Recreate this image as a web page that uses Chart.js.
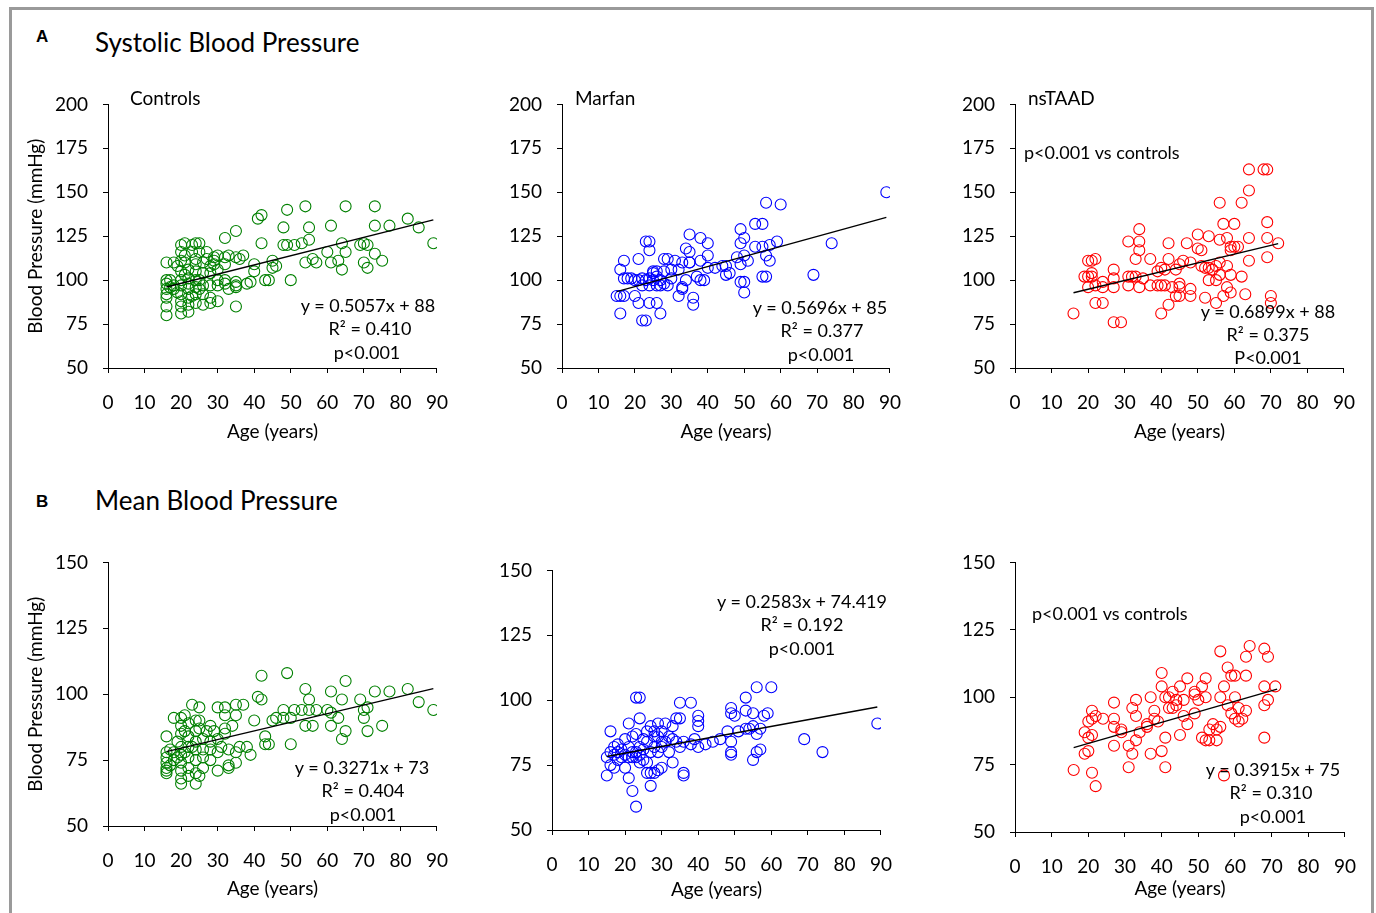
<!DOCTYPE html>
<html><head><meta charset="utf-8">
<script src="https://cdn.jsdelivr.net/npm/chart.js@4.4.1/dist/chart.umd.min.js"></script>
<style>
html,body{margin:0;padding:0;background:#fff;}
#page{position:relative;width:1376px;height:913px;overflow:hidden;font-family:Lato,sans-serif;color:#000;}
#frame{position:absolute;left:9px;top:7px;width:1359px;height:930px;border:3px solid #9a9a9a;border-bottom:none;}
canvas{position:absolute;}
.t{position:absolute;white-space:nowrap;line-height:1;}
</style></head><body><div id="page"><div id="frame"></div></div>
<script>
// ---------- data ----------
const sbpControlsAge = [16,16,16,16,16,16,16,16, 17,17, 18,18,18, 19,19, 20,20,20,20,20,20,20,20,20,20, 21,21,21,21, 22,22,22,22,22,22,22, 23,23,23, 24,24,24,24,24,24,24,24, 25,25,25,25, 26,26,26,26,26, 27,27, 28,28,28,28,28, 29,29,29, 30,30,30,30,30, 32,32,32,32,32, 33,33, 35,35,35,35,35,35, 36, 37, 38, 39, 40,40, 41, 42,42, 43, 44, 45,45, 46, 48,48, 49,49, 50, 51, 53, 54,54, 55,55, 56, 57, 60, 61,61, 63, 64,64, 65,65, 69, 70,70, 71,71, 73,73,73, 75, 77, 82, 85, 89];
const sbpControlsVal = [110,100,98,95,92,90,85,80, 100,96, 110,97,95, 108,93, 120,116,111,105,100,97,92,88,85,81, 121,114,110,103, 106,101,98,95,90,86,82, 120,116,91, 121,112,109,105,100,96,92,87, 121,116,100,95, 110,104,97,92,86, 116,112, 108,104,97,90,87, 113,111,109, 114,106,100,97,88, 124,113,109,100,98, 95,114, 128,113,99,97,96,85, 112, 114, 98, 99, 109,105, 135, 137,121, 100, 100, 111,107, 108, 130,120, 140,120, 100, 120, 121, 142,110, 130,123, 112, 110, 116, 131,110, 111, 121,106, 142,116, 120, 121,110, 120,107, 142,131,115, 111, 131, 135, 130, 121];

const sbpMarfanAge = [15, 16,16,16, 17,17,17, 18, 19, 20,20, 21,21,21, 22,22,22, 23,23,23, 24,24,24,24,24, 25,25,25, 26,26,26,26, 27,27,27, 28,28,28, 29,29, 30,30, 31, 32,32, 33,33,33, 34,34, 35,35,35,35, 36,36, 37, 38,38,38, 39, 40,40,40, 42, 44, 45,45, 46, 48, 49,49,49,49, 50,50,50,50, 51, 53,53, 55,55,55, 56,56,56, 57,57, 59, 60, 69, 74, 89];
const sbpMarfanVal = [91, 91,106,81, 91,111,101, 101, 101, 100,91, 112,87,100, 101,97,77, 122,100,77, 122,117,101,97,87, 100,104,105, 97,102,87,105, 100,97,81, 112,98,105, 112,97, 101,106, 111, 106,91, 110,95,96, 118,100, 126,116,110,110, 90,86, 102, 124,111,100, 100, 121,114,107, 107, 108, 103,108, 104, 113, 129,121,109,99, 124,114,99,93, 111, 132,119, 132,119,102, 144,114,102, 111,120, 122, 143, 103, 121, 150];

const sbpTaadAge = [16, 19, 20,20,20, 21,21,21, 22,22,22, 24,24,24, 27,27,27,27, 29, 31,31,31, 32, 33,33, 34,34,34,34, 35, 37,37, 39,39, 40,40,40, 41,41, 42,42,42, 43, 44,44, 45,45,45,45, 46, 47, 48,48,48, 50,50, 51,51, 52,52, 53,53,53, 54, 55,55,55, 56,56,56,56, 57,57, 58,58,58, 59,59,59,59, 60,60, 61, 62,62, 63, 64,64,64,64, 68, 69,69,69,69, 70,70, 72];
const sbpTaadVal = [81, 102, 111,102,96, 111,104,102, 112,97,87, 99,96,87, 106,101,96,76, 76, 122,102,97, 102, 112,102, 129,122,117,96, 101, 112,97, 105,97, 107,97,81, 106,97, 121,112,86, 96, 106,91, 109,96,91,98, 111, 121, 110,95,91, 126,118, 117,108, 107,90, 125,107,100, 106, 108,100,87, 144,123,110,103, 132,91, 124,108,96, 119,117,103,93, 132,119, 119, 144,102, 92, 163,151,111,124, 163, 163,133,124,113, 91,87, 121];

const mbpControlsAge = [16,16,16,16,16,16,16, 17,17, 18,18,18, 19,19, 20,20,20,20,20,20,20,20,20, 21,21,21, 22,22,22,22,22,22, 23,23, 24,24,24,24,24,24,24, 25,25,25,25, 26,26,26,26, 27, 28,28,28,28, 29, 30,30,30,30, 31, 32,32,32,32, 33,33,33, 34, 35,35,35,35, 36, 37, 38, 39, 40, 41, 42,42, 43,43, 44, 45, 46, 48,48, 49, 50,50, 51, 53, 54,54, 55,55, 56, 57, 60, 61,61,61, 63, 64,64, 65,65, 69, 70,70, 71,71, 73, 75, 77, 82, 85, 89];
const mbpControlsVal = [84,78,76,74,72,71,70, 79,73, 91,78,75, 82,76, 91,88,85,80,77,74,71,68,66, 92,86,78, 89,84,80,76,72,69, 96,80, 90,86,82,79,75,70,66, 95,87,90,69, 83,79,76,72, 86, 88,82,79,75, 86, 95,83,78,71, 80, 95,92,87,85, 79,73,72, 88, 96,92,78,74, 80, 96, 80, 77, 90, 99, 107,98, 84,81, 81, 90, 91, 94,91, 108, 81,91, 94, 94, 102,88, 98,94, 88, 94, 94, 101,88,93, 91, 98,83, 105,86, 98, 94,91, 95,86, 101, 88, 101, 102, 97, 94];

const mbpMarfanAge = [15,15, 16,16,16, 17,17,17, 18,18,18, 19,19, 20,20,20, 21,21,21,21, 22,22,22,22, 23,23,23,23,23, 24,24,24,24,24, 25,25,25, 26,26,26,26, 27,27,27,27, 28,28,28,28, 29,29,29,29, 30,30,30,30, 31,31, 32,32, 33,33,33, 34,34, 35,35,35, 36,36,36, 38,38, 39, 40,40,40,40, 42, 44, 46, 48, 49,49,49,49,49, 50, 51, 53,53,53, 54, 55,55,55, 56,56,56, 57,57, 58, 59, 60, 69, 74, 89];
const mbpMarfanVal = [71,78, 88,75,80, 74,79,82, 83,77,80, 78,81, 74,85,79, 91,70,82,78, 65,78,86,80, 101,87,59,78,80, 101,93,79,76,82, 77,85,81, 88,76,72,84, 90,72,67,80, 88,72,82,86, 91,80,73,86, 74,84,82,88, 91,84, 86,80, 76,85,90, 93,84, 99,93,82, 72,71,84, 99,83, 85, 94,92,90,82, 83, 84, 85, 88, 97,95,84,80,79, 94, 88, 101,96,89, 89, 95,90,77, 105,87,80, 89,81, 94, 95, 105, 85, 80, 91];

const mbpTaadAge = [16, 19,19, 20,20,20, 21,21,21,21, 22,22, 24, 27,27,27,27, 29,29, 31,31, 32,32, 33,33,33, 34, 36,36, 37,37, 38,38, 39, 40,40,40, 41,41,41, 42,42, 43,43, 44,44, 45,45, 46,46, 47,47, 49,49,49, 50, 51,51, 52,52,52, 53,53, 54, 55,55, 56,56,56, 57,57, 58,58, 59,59, 60,60,60, 61,61, 62, 63,63,63, 64, 68,68,68,68, 69,69, 71];
const mbpTaadVal = [73, 79,87, 80,85,91, 95,92,86,72, 93,67, 92, 98,92,89,82, 87,88, 74,82, 96,79, 99,93,84, 87, 89,90, 79,100, 92,95, 91, 109,104,80, 100,85,74, 96,100, 96,102, 99,97, 104,86, 99,93, 107,90, 101,102,94, 99, 104,85, 107,100,84, 84,88, 90, 84,88, 100,89,117, 104,71, 111,97, 108,94, 108,92,100, 91,96, 92, 108,95,115, 119, 118,104,97,85, 115,99, 104];

// trend line end points (age, value)
const sbpControlsTrendAge = [16, 89],  sbpControlsTrendVal = [96.1, 134.3];
const sbpMarfanTrendAge   = [15, 89],  sbpMarfanTrendVal   = [93.5, 135.7];
const sbpTaadTrendAge     = [16, 72],  sbpTaadTrendVal     = [92.8, 120.8];
const mbpControlsTrendAge = [16, 89],  mbpControlsTrendVal = [78.2, 102.1];
const mbpMarfanTrendAge   = [15, 89],  mbpMarfanTrendVal   = [78.3, 97.4];
const mbpTaadTrendAge     = [16, 71.5],mbpTaadTrendVal     = [81.3, 103.0];

// ---------- drawing ----------
const FONT = 'Lato, sans-serif';
const page = document.getElementById('page');
Chart.defaults.color = '#000';

function text(str, x, y, size, align, weight, family) {
  const d = document.createElement('div');
  d.className = 't';
  d.textContent = str;
  d.style.left = x + 'px';
  d.style.top = y + 'px';
  d.style.fontSize = size + 'px';
  d.style.fontFamily = family || FONT;
  if (weight) d.style.fontWeight = weight;
  d.style.transform = align === 'center' ? 'translate(-50%,-50%)' : 'translate(0,-50%)';
  page.appendChild(d);
  return d;
}

function panel(p) {
  const padTop = 24, padRight = 25, yW = 88;
  const xH = Math.round(p.titleY - p.B + 13.5);
  let W = p.R - p.L + yW + padRight;
  let H = p.B - p.T + padTop + xH;
  const c = document.createElement('canvas');
  c.width = W; c.height = H;
  c.style.width = W + 'px'; c.style.height = H + 'px';
  page.appendChild(c);
  const pts = p.ages.map((a, i) => ({x: a, y: p.vals[i]}));
  const tr = p.trendAge.map((a, i) => ({x: a, y: p.trendVal[i]}));
  const tickFont = {family: FONT, size: 19};
  const chart = new Chart(c, {
    type: 'scatter',
    data: {datasets: [
      {data: pts, pointStyle: 'circle', pointRadius: 5.5, pointHoverRadius: 5.5,
       borderColor: p.color, backgroundColor: 'rgba(0,0,0,0)', borderWidth: 1.1, order: 2},
      {data: tr, showLine: true, borderColor: '#000', borderWidth: 1.4, pointRadius: 0, fill: false, order: 1}
    ]},
    options: {
      responsive: false, animation: false, devicePixelRatio: 1,
      layout: {padding: {top: padTop, right: padRight, left: 0, bottom: 0}},
      plugins: {legend: {display: false}, tooltip: {enabled: false}},
      scales: {
        x: {type: 'linear', min: 0, max: 90, position: 'bottom',
          ticks: {stepSize: 10, autoSkip: false, maxRotation: 0, padding: p.xPad, font: tickFont, color: '#000'},
          grid: {drawOnChartArea: false, drawTicks: true, tickLength: 5, color: '#000', lineWidth: 1},
          border: {display: true, color: '#000', width: 1},
          title: {display: true, text: 'Age (years)', font: tickFont, color: '#000', padding: {top: 0, bottom: 2}},
          afterFit: (s) => { s.height = xH; }
        },
        y: {type: 'linear', min: 50, max: p.ymax, position: 'left',
          ticks: {stepSize: 25, padding: 15, font: tickFont, color: '#000'},
          grid: {drawOnChartArea: false, drawTicks: true, tickLength: 5, color: '#000', lineWidth: 1},
          border: {display: true, color: '#000', width: 1},
          title: {display: !!p.yTitle, text: 'Blood Pressure (mmHg)', font: tickFont, color: '#000', padding: {top: 4, bottom: 0}},
          afterFit: (s) => { s.width = yW; }
        }
      }
    }
  });
  // make the plot area land exactly on the measured reference box
  let ca = chart.chartArea;
  for (let k = 0; k < 4; k++) {
    const dw = Math.round((p.R - p.L) - (ca.right - ca.left));
    const dh = Math.round((p.B - p.T) - (ca.bottom - ca.top));
    if (!dw && !dh) break;
    W += dw; H += dh;
    chart.resize(W, H);
    ca = chart.chartArea;
  }
  c.style.left = Math.round(p.L - ca.left) + 'px';
  c.style.top = Math.round(p.T - ca.top) + 'px';
}

panel({L:108, R:439, T:104, B:368, ymax:200, titleY:431, xPad:18, yTitle:true, color:'#008000',
  ages:sbpControlsAge, vals:sbpControlsVal, trendAge:sbpControlsTrendAge, trendVal:sbpControlsTrendVal});
panel({L:562, R:892, T:104, B:368, ymax:200, titleY:431, xPad:18, color:'#0000ff',
  ages:sbpMarfanAge, vals:sbpMarfanVal, trendAge:sbpMarfanTrendAge, trendVal:sbpMarfanTrendVal});
panel({L:1015, R:1346, T:104, B:368, ymax:200, titleY:431, xPad:18, color:'#ff0000',
  ages:sbpTaadAge, vals:sbpTaadVal, trendAge:sbpTaadTrendAge, trendVal:sbpTaadTrendVal});
panel({L:108, R:439, T:562, B:826, ymax:150, titleY:888, xPad:18, yTitle:true, color:'#008000',
  ages:mbpControlsAge, vals:mbpControlsVal, trendAge:mbpControlsTrendAge, trendVal:mbpControlsTrendVal});
panel({L:552, R:883, T:570, B:830, ymax:150, titleY:889, xPad:18, color:'#0000ff',
  ages:mbpMarfanAge, vals:mbpMarfanVal, trendAge:mbpMarfanTrendAge, trendVal:mbpMarfanTrendVal});
panel({L:1015, R:1347, T:562, B:832, ymax:150, titleY:888, xPad:18, color:'#ff0000',
  ages:mbpTaadAge, vals:mbpTaadVal, trendAge:mbpTaadTrendAge, trendVal:mbpTaadTrendVal});

// headings
text('A', 36, 36, 17, 'left', 'bold', 'Liberation Sans, Arial, sans-serif');
text('Systolic Blood Pressure', 95, 42, 26, 'left');
text('B', 36, 501, 17, 'left', 'bold', 'Liberation Sans, Arial, sans-serif');
text('Mean Blood Pressure', 95, 500, 26, 'left');

// panel names
text('Controls', 130, 97, 19, 'left');
text('Marfan', 575, 97, 19, 'left');
text('nsTAAD', 1028, 97, 19, 'left');
text('p<0.001 vs controls', 1024, 152, 18, 'left');
text('p<0.001 vs controls', 1032, 613, 18, 'left');

// regression annotations
text('y = 0.5057x + 88', 368, 305, 18, 'center');
text('R² = 0.410', 370, 328, 18, 'center');
text('p<0.001', 367, 352, 18, 'center');
text('y = 0.5696x + 85', 820, 307, 18, 'center');
text('R² = 0.377', 822, 330, 18, 'center');
text('p<0.001', 821, 354, 18, 'center');
text('y = 0.6899x + 88', 1268, 311, 18, 'center');
text('R² = 0.375', 1268, 334, 18, 'center');
text('P<0.001', 1268, 357, 18, 'center');
text('y = 0.3271x + 73', 362, 767, 18, 'center');
text('R² = 0.404', 363, 790, 18, 'center');
text('p<0.001', 363, 814, 18, 'center');
text('y = 0.2583x + 74.419', 802, 601, 18, 'center');
text('R² = 0.192', 802, 624, 18, 'center');
text('p<0.001', 802, 648, 18, 'center');
text('y = 0.3915x + 75', 1273, 769, 18, 'center');
text('R² = 0.310', 1271, 792, 18, 'center');
text('p<0.001', 1273, 816, 18, 'center');
</script></body></html>
